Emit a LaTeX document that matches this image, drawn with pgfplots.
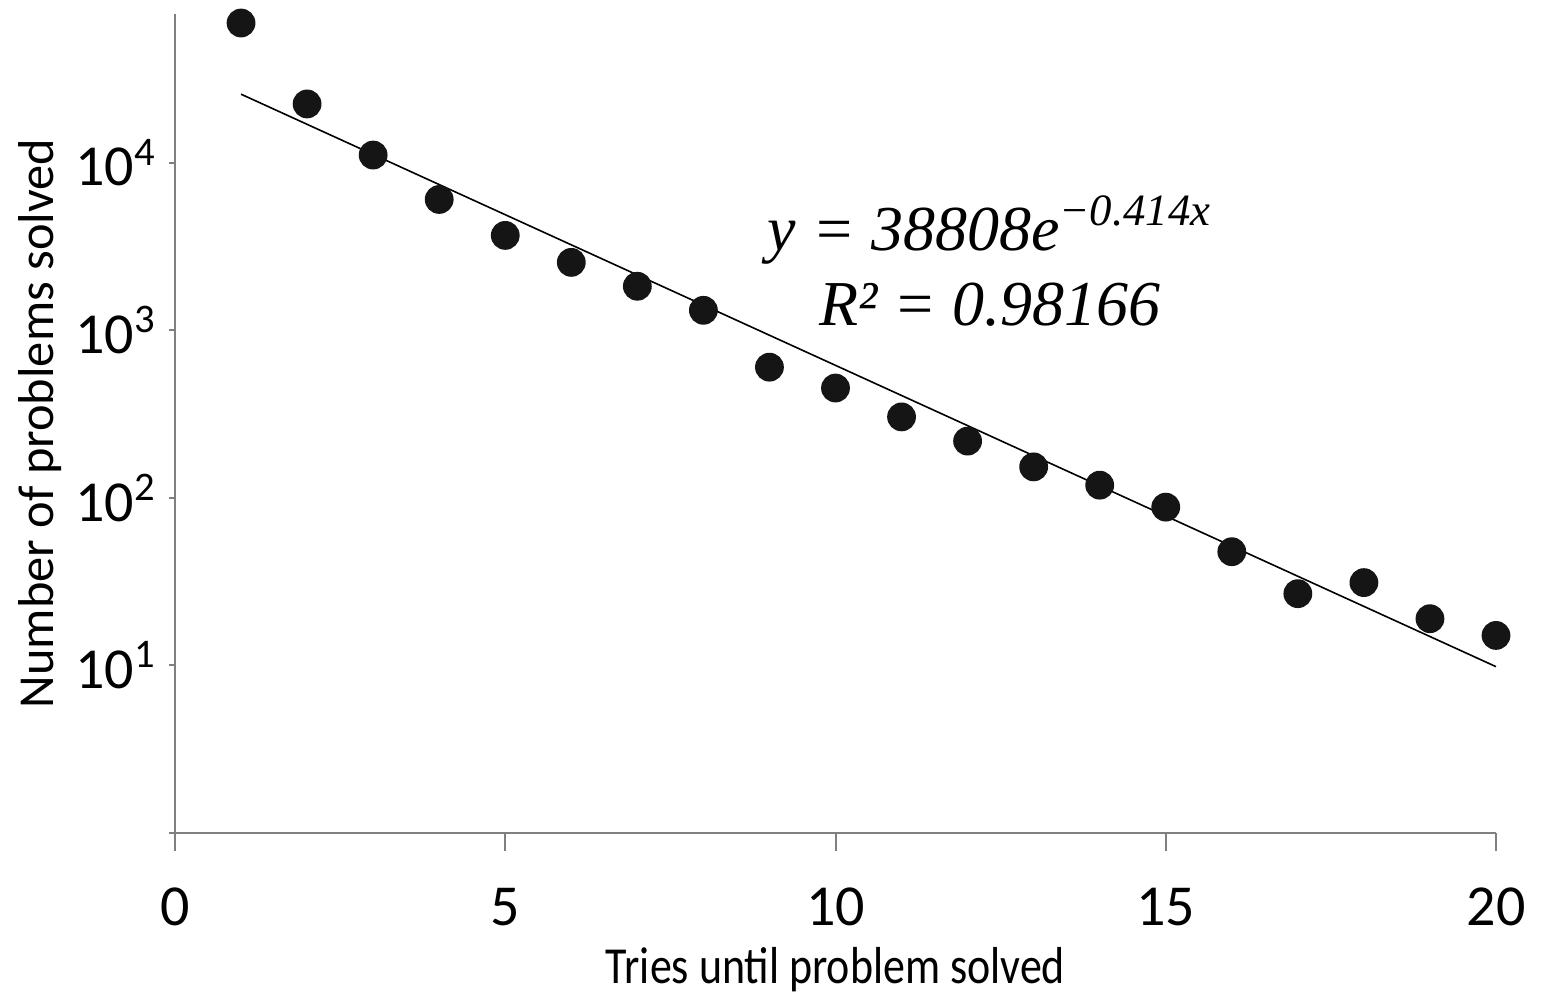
\documentclass[border=0pt]{standalone}
\usepackage{fontspec}
\setmainfont{Carlito}
\newfontfamily\labfont[FakeStretch=0.845]{Carlito}
\newfontfamily\eqfont{Liberation Serif}
\usepackage{pgfplots}
\pgfplotsset{compat=1.18}

\definecolor{axgray}{HTML}{808080}
\definecolor{dotblack}{HTML}{151515}

\begin{document}
\begin{tikzpicture}
\begin{axis}[
    scale only axis,
    width=330.25pt, height=204.75pt,
    ymode=log,
    xmin=0, xmax=20,
    ymin=1, ymax=77100,
    axis x line*=bottom, axis y line*=left,
    axis line style={axgray, line width=0.5pt},
    xtick={0,5,10,15,20},
    ytick={1,10,100,1000,10000},
    yticklabels={,10\textsuperscript{1},10\textsuperscript{2},10\textsuperscript{3},10\textsuperscript{4}},
    yminorticks=false,
    tick align=outside,
    tick style={axgray, line width=0.5pt},
    xtick style={/pgfplots/major tick length=4.5pt},
    ytick style={/pgfplots/major tick length=1.5pt},
    /pgf/number format/assume math mode=true,
    ticklabel style={font=\fontsize{14.5}{16}\selectfont},
    xticklabel style={yshift=-6pt},
    yticklabel style={anchor=east, xshift=3.25pt},
    xlabel={Tries until problem solved},
    ylabel={Number of problems solved},
    xlabel style={font=\labfont\fontsize{13}{15}\selectfont,
        at={(axis description cs:0.5,0)}, anchor=base, yshift=-37.5pt},
    ylabel style={font=\fontsize{12.6}{15}\selectfont,
        at={(axis description cs:0,0.5)}, anchor=center, yshift=33.75pt},
    clip=false,
]
\addplot[only marks, mark=*, mark size=3.4pt,
    mark options={fill=dotblack, draw=dotblack}] coordinates {
(1,68100)(2,22400)(3,11100)(4,6030)(5,3680)(6,2540)(7,1830)(8,1315)
(9,602)(10,452)(11,304)(12,218)(13,153)(14,119)(15,88)(16,47.7)
(17,26.8)(18,31.2)(19,19.0)(20,15.1)
};
% exponential trend line (straight on log axis): endpoints of 38808 e^{-0.414x}
\addplot[black, line width=0.4pt] coordinates {(1,25612)(20,9.83)};
\node[font=\eqfont\itshape\fontsize{16}{18.75}\selectfont, align=center]
  at (axis cs:12.34,2600) {y = 38808e\textsuperscript{−0.414x}\\R² = 0.98166};
\coordinate (sw) at (rel axis cs:0,0);
\coordinate (ne) at (rel axis cs:1,1);
\end{axis}
\path ([xshift=-43.75pt, yshift=-38.75pt]sw) rectangle ([xshift=11.25pt, yshift=3.5pt]ne);
\end{tikzpicture}
\end{document}
